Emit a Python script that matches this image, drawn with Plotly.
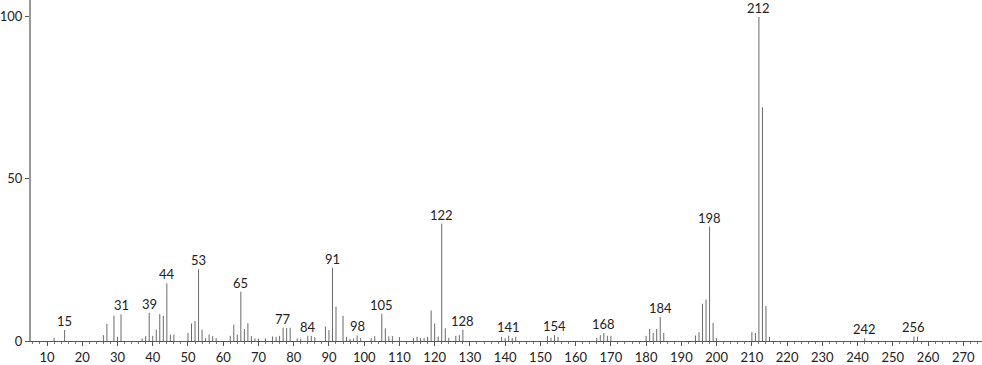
import plotly.graph_objects as go

mz = [12, 15, 26, 27, 29, 30, 31, 37, 38, 39, 40, 41, 42, 43, 44, 45, 46,
      50, 51, 52, 53, 54, 55, 56, 57, 58, 62, 63, 64, 65, 66, 67, 68, 69, 70,
      72, 74, 75, 76, 77, 78, 79, 81, 82, 84, 85, 86, 89, 90, 91, 92, 94, 95,
      96, 97, 98, 99, 102, 103, 105, 106, 107, 108, 110, 114, 115, 116, 117,
      118, 119, 120, 121, 122, 123, 124, 126, 127, 128, 139, 140, 141, 142,
      143, 152, 153, 154, 155, 166, 167, 168, 169, 170, 180, 181, 182, 183,
      184, 185, 194, 195, 196, 197, 198, 199, 200, 210, 211, 212, 213, 214,
      215, 242, 256, 257]
intensity = [1.0, 3.4, 1.8, 5.3, 7.8, 1.3, 8.2, 0.8, 1.5, 8.7, 1.6, 3.5, 8.3,
             7.8, 17.8, 2.0, 2.0, 2.5, 5.4, 6.2, 22.1, 3.5, 0.9, 2.0, 1.5, 0.9,
             1.6, 5.0, 2.0, 15.2, 3.7, 5.5, 1.5, 0.8, 0.7, 0.8, 1.4, 1.3, 1.6,
             4.1, 4.0, 4.1, 0.8, 0.7, 1.6, 1.6, 1.2, 4.5, 3.4, 22.6, 10.6, 7.8,
             1.3, 0.7, 0.8, 1.7, 0.9, 0.9, 1.5, 8.4, 3.9, 1.4, 1.5, 1.2, 0.9,
             1.3, 0.9, 0.9, 1.3, 9.4, 5.4, 1.4, 36.2, 3.9, 1.0, 1.6, 1.8, 3.5,
             1.3, 0.9, 1.6, 1.0, 1.3, 1.6, 1.0, 1.8, 1.3, 1.0, 1.8, 2.5, 1.6,
             1.6, 1.6, 3.7, 2.5, 3.7, 7.4, 2.5, 1.7, 2.7, 11.5, 12.8, 35.3, 5.6,
             0.9, 2.7, 2.5, 100.0, 72.1, 10.8, 1.3, 0.8, 1.4, 1.4]
labeled = [15, 31, 39, 44, 53, 65, 77, 84, 91, 98, 105, 122, 128, 141, 154,
           168, 184, 198, 212, 242, 256]
x_ticks = list(range(10, 280, 10))
y_ticks = [0, 50, 100]

xs, ys = [], []
for m, v in zip(mz, intensity):
    xs += [m, m, None]
    ys += [0, v, None]

fig = go.Figure()
fig.add_trace(go.Scatter(x=xs, y=ys, mode="lines",
                         line=dict(color="#6a6a6a", width=1),
                         hoverinfo="skip", showlegend=False))

lookup = dict(zip(mz, intensity))
for m in labeled:
    fig.add_annotation(x=m, y=lookup[m], text=str(m), showarrow=False,
                       yanchor="bottom", yshift=-1,
                       font=dict(size=13, color="#222"))

fig.update_layout(
    width=982, height=365,
    margin=dict(l=29, r=0, t=0, b=22),
    plot_bgcolor="white", paper_bgcolor="white",
    font=dict(family="Lato, Open Sans, sans-serif", size=13, color="#222"),
    showlegend=False,
)
fig.update_xaxes(range=[5.46, 275.3], tickvals=x_ticks, ticks="outside",
                 ticklen=4, tickcolor="#555", showline=True, linecolor="#555",
                 linewidth=1, showgrid=False, zeroline=False,
                 minor=dict(dtick=2, tick0=0, ticks="outside", ticklen=2,
                            tickcolor="#777"),
                 tickfont=dict(size=13, color="#222"))
fig.update_yaxes(range=[0, 105.2], tickvals=y_ticks, ticks="outside",
                 ticklen=4, tickcolor="#555", showline=True, linecolor="#999",
                 linewidth=2, showgrid=False, zeroline=False,
                 tickfont=dict(size=13, color="#222"))

fig.write_html("out.html")
